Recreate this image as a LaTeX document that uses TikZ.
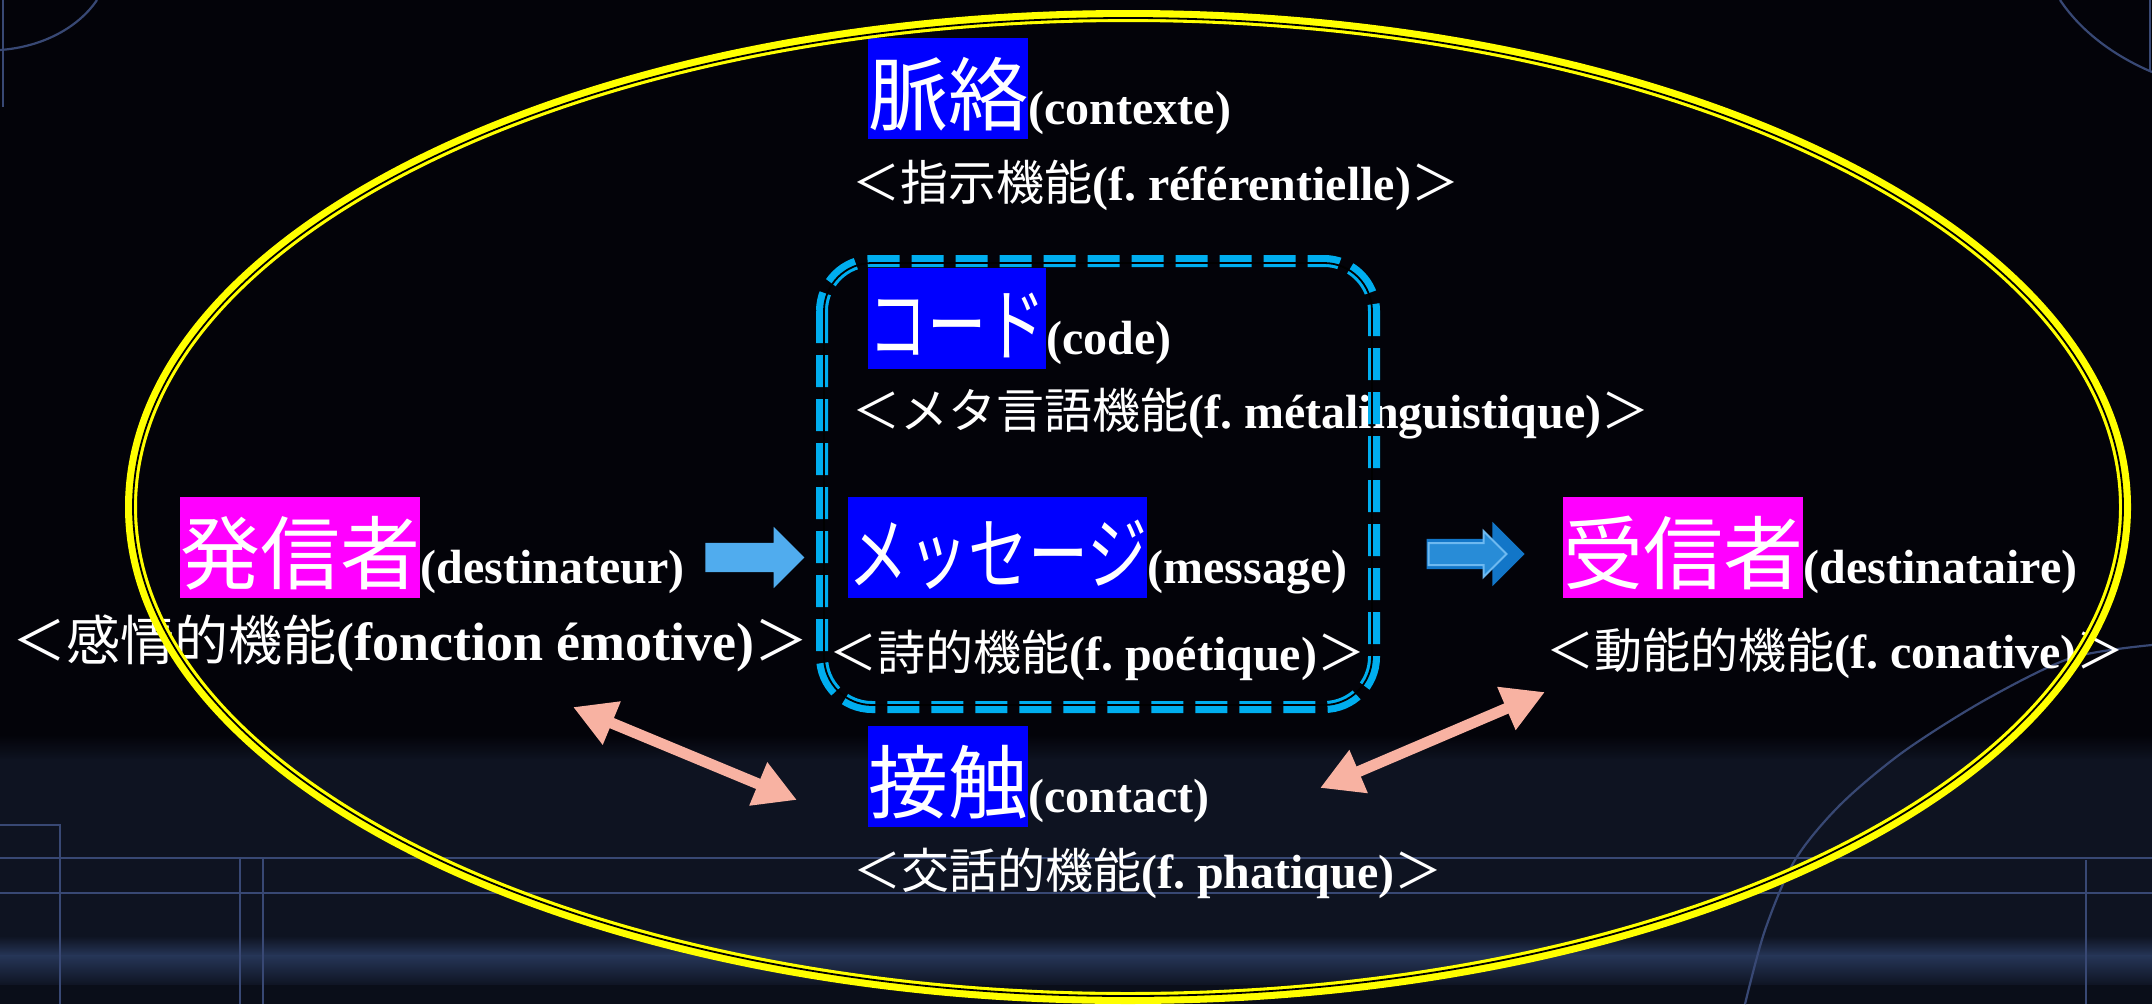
\documentclass[tikz,border=0pt]{standalone}
\usepackage{fontspec}
\usepackage{graphicx}
\setmainfont{Liberation Serif}
\newfontfamily\cjk{Noto Sans CJK JP}
\usetikzlibrary{arrows.meta,shapes.arrows}

\definecolor{bgtop}{RGB}{3,3,9}
\definecolor{bgnavy}{RGB}{14,19,33}
\definecolor{bgband}{RGB}{38,54,88}
\definecolor{gridline}{RGB}{56,72,116}
\definecolor{hlblue}{RGB}{0,0,255}
\definecolor{hlmag}{RGB}{255,0,255}
\definecolor{ringyel}{RGB}{255,255,0}
\definecolor{grpblue}{RGB}{0,174,239}
\definecolor{arrlight}{RGB}{80,172,238}
\definecolor{arrdark}{RGB}{18,118,200}
\definecolor{arrinner}{RGB}{40,140,215}
\definecolor{arredge}{RGB}{110,185,240}
\definecolor{linkpink}{RGB}{248,178,162}

% a function line: Japanese part, French part, closing bracket
\newcommand\fnline[3]{{\cjk #1}\textbf{#2}{\cjk #3}}
\frenchspacing

\begin{document}
\begin{tikzpicture}[x=1pt,y=-1pt,
  big/.style={inner sep=0pt, text height=86pt, text depth=15pt, text=white,
    anchor=north west, font=\cjk\fontsize{80}{96}\selectfont},
  lat/.style={inner sep=0pt, anchor=base west, text=white,
    font=\bfseries\fontsize{48}{58}\selectfont},
  func/.style={inner sep=0pt, anchor=base west, text=white,
    font=\fontsize{48}{58}\selectfont},
  blockarrow/.style={single arrow, draw=none, inner xsep=0pt,
    single arrow tip angle=90, single arrow head indent=0pt},
  link/.style={linkpink, line width=11pt,
    {Triangle[length=42pt,width=44pt]}-{Triangle[length=42pt,width=44pt]}},
  deco/.style={gridline, line width=2.2pt}
]
\useasboundingbox (0,0) rectangle (2152,1004);

% background
\fill[bgtop] (0,0) rectangle (2152,1004);
\shade[top color=bgtop, bottom color=bgnavy] (0,735) rectangle (2152,760);
\fill[bgnavy] (0,759) rectangle (2152,937);
\shade[top color=bgnavy, bottom color=bgband] (0,936) rectangle (2152,956);
\shade[top color=bgband, bottom color=bgnavy] (0,955) rectangle (2152,986);
\fill[bgnavy!75!black] (0,985) rectangle (2152,1004);

% faint frame lines
\draw[deco] (0,858) -- (2152,858);
\draw[deco] (0,893) -- (2152,893);
\draw[deco] (0,825) -- (60,825) -- (60,1004);
\draw[deco] (240,858) -- (240,1004);
\draw[deco] (263,858) -- (263,1004);
\draw[deco] (2086,860) -- (2086,1004);
\draw[deco] (3,0) -- (3,107);
\draw[deco] (97,0) .. controls (78,28) and (42,47) .. (0,50);
\draw[deco] (2060,0) .. controls (2080,30) and (2112,55) .. (2152,72);
\draw[deco] (2150,0) -- (2150,72);
\draw[deco] plot[smooth] coordinates {(2152,645) (2071,658) (1985,700) (1903,752) (1840,805) (1795,860) (1765,930) (1745,1004)};

% six factors
\node[big, fill=hlblue] (ctx) at (868,38) {脈絡};
\node[lat] (ctxl) at (ctx.base east) {(contexte)};
\node[func] (ctxf) at (852,200) {\fnline{＜指示機能}{(f. référentielle)}{＞}};

\node[big, fill=hlblue] (code) at (868,268) {\scalebox{0.74}[1]{コード}};
\node[lat] (codel) at (code.base east) {(code)};
\node[func] (codef) at (852,428) {\fnline{＜メタ言語機能}{(f. métalinguistique)}{＞}};

\node[big, fill=hlmag] (send) at (180,497) {発信者};
\node[lat] (sendl) at (send.base east) {(destinateur)};
\node[func, font=\fontsize{54}{64}\selectfont] (sendf) at (12,660) {\fnline{＜感情的機能}{(fonction émotive)}{＞}};

\node[big, fill=hlblue] (msg) at (848,497) {\scalebox{0.75}[1]{メッセージ}};
\node[lat] (msgl) at (msg.base east) {(message)};
\node[func] (msgf) at (829,670) {\fnline{＜詩的機能}{(f. poétique)}{＞}};

\node[big, fill=hlmag] (recv) at (1563,497) {受信者};
\node[lat] (recvl) at (recv.base east) {(destinataire)};
\node[func] (recvf) at (1546,668) {\fnline{＜動能的機能}{(f. conative)}{＞}};

\node[big, fill=hlblue] (cont) at (868,726) {接触};
\node[lat] (contl) at (cont.base east) {(contact)};
\node[func] (contf) at (853,888) {\fnline{＜交話的機能}{(f. phatique)}{＞}};

% block arrows
\node[blockarrow, fill=arrlight, minimum height=99pt, inner ysep=14.5pt,
  single arrow head extend=16pt] (sendarrow) at (747.5,557.5) {};
\node[blockarrow, fill=arrdark, minimum height=98pt, inner ysep=15pt,
  single arrow head extend=17pt] (recvarrow) at (1468,554) {};
\node[blockarrow, fill=arrinner, draw=arredge, line width=2pt, minimum height=78pt,
  inner ysep=10pt, single arrow head extend=12pt] (recvarrowin) at (1462,554) {};

% contact links
\coordinate (lk1) at (573,707);
\coordinate (lk2) at (797,800);
\coordinate (rk1) at (1545,692);
\coordinate (rk2) at (1320,788);
\draw[link] (lk1) -- (lk2);
\draw[link] (rk1) -- (rk2);

% dashed group around code and message
\draw[grpblue, line width=12pt, dash pattern=on 32pt off 12pt, rounded corners=50pt]
  (822,261) rectangle (1374,707);
\draw[black, line width=1.8pt, rounded corners=48pt]
  (824,263) rectangle (1372,705);

% enclosing ellipse
\draw[ringyel, line width=12pt] (1128,507) ellipse [x radius=997, y radius=491];
\draw[black, line width=1.8pt] (1128,507) ellipse [x radius=995, y radius=489];
\end{tikzpicture}
\end{document}
